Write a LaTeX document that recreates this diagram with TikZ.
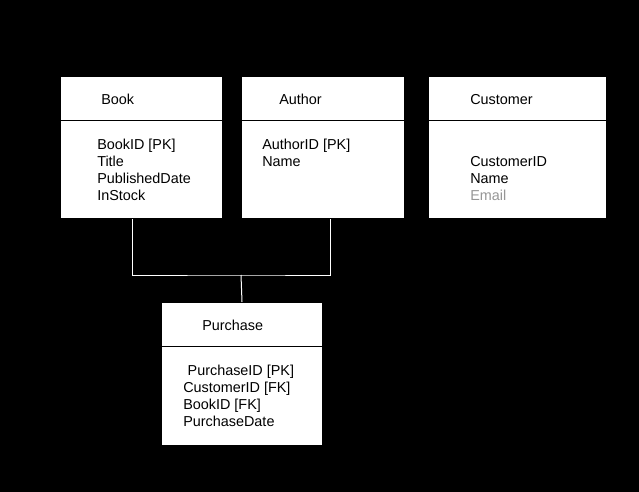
\documentclass[tikz,border=0pt]{standalone}
\usepackage{fontspec}
\setmainfont{Liberation Sans}
\usetikzlibrary{positioning}
\definecolor{fadedgray}{RGB}{150,150,150}

\begin{document}
\begin{tikzpicture}[
    x=0.75pt, y=-0.75pt,
    head/.style={rectangle, draw=black, line width=0.75pt, fill=white, anchor=north west, minimum height=33pt, inner sep=0pt},
    body/.style={rectangle, draw=black, line width=0.75pt, fill=white, anchor=north west, minimum height=73.5pt, inner sep=0pt},
    title/.style={anchor=base west, inner sep=0pt, font=\fontsize{10.8}{12.75}\selectfont},
    fields/.style={anchor=base west, inner sep=0pt, align=left, font=\fontsize{10.8}{12.75}\selectfont},
    link/.style={draw=white, line width=0.75pt}
]

% Background
\fill[black] (0,0) rectangle (639,492);

% Book table
\node[head, minimum width=121.5pt] (bookhead) at (60,76) {};
\node[body, minimum width=121.5pt] (bookbody) at (60,120) {};
\node[title] (booktitle) at (101,104) {Book};
\node[fields] (bookfields) at (97,200) {BookID [PK]\\Title\\PublishedDate\\InStock};

% Author table
\node[head, minimum width=122.25pt] (authorhead) at (241,76) {};
\node[body, minimum width=122.25pt] (authorbody) at (241,120) {};
\node[title] (authortitle) at (279,104) {Author};
\node[fields] (authorfields) at (262,166) {AuthorID [PK]\\Name};

% Customer table
\node[head, minimum width=133.5pt] (customerhead) at (428,76) {};
\node[body, minimum width=133.5pt] (customerbody) at (428,120) {};
\node[title] (customertitle) at (470,104) {Customer};
\node[fields] (customerfields) at (470,200) {CustomerID\\Name\\\textcolor{fadedgray}{Email}};

% Purchase table
\node[head, minimum width=120.75pt] (purchasehead) at (161,302) {};
\node[body, minimum width=120.75pt, minimum height=74.25pt] (purchasebody) at (161,346) {};
\node[title] (purchasetitle) at (202,330) {Purchase};
\node[fields] (purchasefields) at (183,426) {\hspace{3.3pt}PurchaseID [PK]\\CustomerID [FK]\\BookID [FK]\\PurchaseDate};

% Relationship lines
\coordinate (bus) at (241,275);
\draw[link] ([xshift=-6.75pt]bookbody.south) |- (bus) -| ([xshift=5.6pt]authorbody.south);
\draw[link] (bus) -- (purchasehead.north);

\end{tikzpicture}
\end{document}
